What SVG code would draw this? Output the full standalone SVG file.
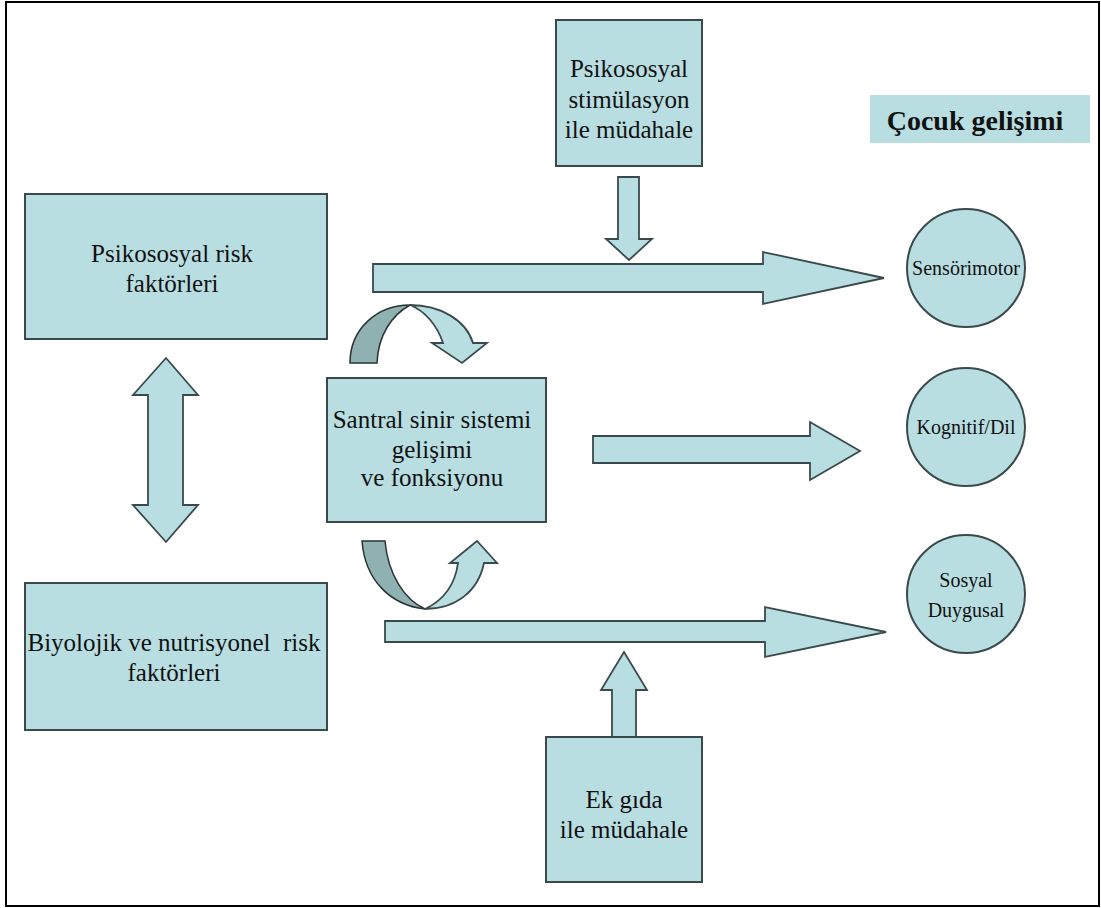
<svg xmlns="http://www.w3.org/2000/svg" width="1101" height="908" viewBox="0 0 1101 908">
<style>
.box{fill:#b8dee2;stroke:#3a4a4c;stroke-width:2}
.arr{fill:#b8dee2;stroke:#3a4a4c;stroke-width:1.8;stroke-linejoin:miter}
.dark{fill:#8fb1b2;stroke:#2a3436;stroke-width:1.5}
.t{font-family:"Liberation Serif","Times New Roman",serif;font-size:25px;fill:#111;text-anchor:middle}
.c{font-family:"Liberation Serif","Times New Roman",serif;font-size:20px;fill:#111;text-anchor:middle}
.b{font-family:"Liberation Serif","Times New Roman",serif;font-size:28px;font-weight:bold;fill:#111;text-anchor:middle}
</style>
<rect x="0" y="0" width="1101" height="908" fill="#fff"/>
<rect x="6" y="2" width="1093" height="904" fill="#fff" stroke="#000" stroke-width="2"/>

<g id="connectors">
  <path class="arr" d="M373,264 L763,264 L763,252 L884,278 L763,304 L763,292 L373,292 Z"/>
  <path class="arr" d="M593,436 L810,436 L810,422 L860,451 L810,480 L810,463 L593,463 Z"/>
  <path class="arr" d="M385,621 L765,621 L765,607 L886,632 L765,657 L765,642 L385,642 Z"/>
  <path class="arr" d="M618,177 L639,177 L639,239 L652,239 L629,260 L606,239 L618,239 Z"/>
  <path class="arr" d="M612,737 L636,737 L636,690 L647,690 L624,652 L601,690 L612,690 Z"/>
  <path class="arr" d="M166,358 L198,395 L183,395 L183,505 L198,505 L166,542 L133,505 L148,505 L148,395 L133,395 Z"/>
  <g id="curve-top">
    <path class="dark" d="M350,363 C350,328 378,305 410,305 C392,315 378,335 377,363 Z"/>
    <path class="arr" d="M410,305 C440,305 466,320 473,343 L487,343 L462,363 L432,343 L443,343 C437,325 425,311 410,305 Z"/>
  </g>
  <g id="curve-bottom">
    <path class="dark" d="M362,541 L385,541 C388,575 405,600 425,609 C390,605 365,580 362,541 Z"/>
    <path class="arr" d="M425,609 C444,600 455,585 458,563 L450,563 L477,541 L497,563 L484,563 C478,592 455,609 425,609 Z"/>
  </g>
</g>

<g id="node-stimulasyon">
  <rect class="box" x="556" y="20" width="146" height="146"/>
  <text class="t" x="629" y="77">Psikososyal</text>
  <text class="t" x="629" y="108">stimülasyon</text>
  <text class="t" x="629" y="138">ile müdahale</text>
</g>
<g id="node-cocuk">
  <rect x="870" y="95" width="220" height="48" fill="#b8dee2"/>
  <text class="b" x="975" y="130">Çocuk gelişimi</text>
</g>
<g id="node-psikososyal-risk">
  <rect class="box" x="25" y="194" width="302" height="145"/>
  <text class="t" x="172" y="262">Psikososyal risk</text>
  <text class="t" x="172" y="292">faktörleri</text>
</g>
<g id="node-biyolojik">
  <rect class="box" x="25" y="583" width="302" height="147"/>
  <text class="t" x="174" y="651" xml:space="preserve">Biyolojik ve nutrisyonel  risk</text>
  <text class="t" x="174" y="681">faktörleri</text>
</g>
<g id="node-santral">
  <rect class="box" x="327" y="378" width="219" height="144"/>
  <text class="t" x="432" y="428">Santral sinir sistemi</text>
  <text class="t" x="432" y="458">gelişimi</text>
  <text class="t" x="432" y="486">ve fonksiyonu</text>
</g>
<g id="node-ekgida">
  <rect class="box" x="546" y="737" width="156" height="145"/>
  <text class="t" x="624" y="808">Ek gıda</text>
  <text class="t" x="624" y="838">ile müdahale</text>
</g>
<g id="node-sensorimotor">
  <circle class="box" cx="966" cy="268" r="59"/>
  <text class="c" x="966" y="275">Sensörimotor</text>
</g>
<g id="node-kognitif">
  <circle class="box" cx="966" cy="427" r="59"/>
  <text class="c" x="966" y="434">Kognitif/Dil</text>
</g>
<g id="node-sosyal">
  <circle class="box" cx="966" cy="594" r="59"/>
  <text class="c" x="966" y="587">Sosyal</text>
  <text class="c" x="966" y="617">Duygusal</text>
</g>
</svg>
